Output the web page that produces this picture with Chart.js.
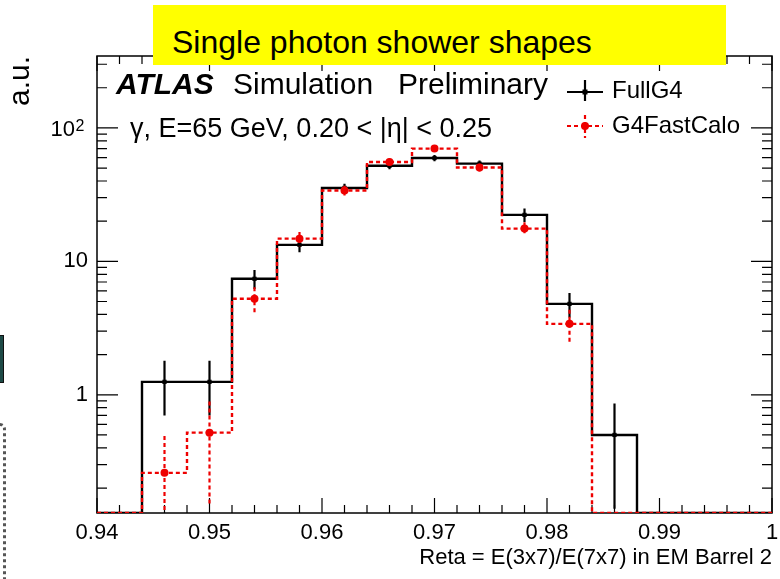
<!DOCTYPE html>
<html>
<head>
<meta charset="utf-8">
<script src="https://cdn.jsdelivr.net/npm/chart.js@4.4.1/dist/chart.umd.min.js"></script>
<style>
  html, body { margin: 0; padding: 0; background: #fff; }
  #wrap { position: relative; width: 780px; height: 579px; overflow: hidden; }
  #banner { position: absolute; left: 153px; top: 5px; width: 573px; height: 60px; background: #ffff00; }
  #banner span { position: absolute; left: 19px; top: 21px; font: 32px/32px "Liberation Sans", Arial, sans-serif; color: #000; white-space: nowrap; }
  #tealBox { position: absolute; left: -2px; top: 335px; width: 4px; height: 46px; background: #1d4a46; border: 1px solid #111; }
  #dashed { position: absolute; left: -6px; top: 423px; width: 6px; height: 170px; border: 3px dotted #555; border-radius: 6px; }
</style>
</head>
<body>
<div id="wrap">
  <canvas id="histChart" width="780" height="579"></canvas>
  <div id="tealBox"></div>
  <div id="dashed"></div>
  <div id="banner"><span>Single photon shower shapes</span></div>
</div>
<script>
// histogram: 15 bins from 0.94 to 1.0
var binLow = [0.940, 0.944, 0.948, 0.952, 0.956, 0.960, 0.964, 0.968, 0.972, 0.976, 0.980, 0.984, 0.988, 0.992, 0.996];
var binHigh = 1.0;
var fullG4 = [0, 1.25, 1.25, 7.4, 13.3, 35.5, 52, 59.5, 54, 22.3, 4.8, 0.5, 0, 0, 0];
var fullG4Err = [0, 0.55, 0.55, 1.2, 1.6, 2.6, 3.0, 3.3, 3.0, 2.6, 1.0, 0.36, 0, 0, 0];
var fastCalo = [0, 0.26, 0.52, 5.24, 14.8, 34, 55.5, 70, 50.5, 17.6, 3.4, 0, 0, 0, 0];
var fastCaloErr = [0, 0.23, 0.37, 1.15, 1.8, 2.8, 3.5, 4.0, 3.4, 2.0, 0.93, 0, 0, 0, 0];
var xTicks = [0.94, 0.95, 0.96, 0.97, 0.98, 0.99, 1.0];
var yTicks = [1, 10, 100];
var yMin = 0.13, yMax = 346;

var RED = '#ee0000';
var FONT = "'Liberation Sans', Arial, sans-serif";
Chart.defaults.font.family = FONT;
Chart.defaults.color = '#000';

// empty bins sit on the axis floor, like ROOT draws them
function stepPoints(vals) {
  var pts = vals.map(function (v, i) { return { x: binLow[i], y: v > 0 ? v : yMin }; });
  pts.push({ x: binHigh, y: pts[pts.length - 1].y });
  return pts;
}
function markerPoints(vals, errs) {
  var pts = [];
  vals.forEach(function (v, i) {
    var hi = i + 1 < binLow.length ? binLow[i + 1] : binHigh;
    if (v > 0) pts.push({ x: (binLow[i] + hi) / 2, y: v, e: errs[i] });
  });
  return pts;
}

var errorBars = {
  id: 'errorBars',
  beforeDatasetDraw: function (chart, args) {
    var ds = chart.data.datasets[args.index];
    if (!ds.errorBars) return;
    var ctx = chart.ctx, a = chart.chartArea, sx = chart.scales.x, sy = chart.scales.y;
    ctx.save();
    ctx.beginPath();
    ctx.rect(a.left, a.top, a.right - a.left, a.bottom - a.top);
    ctx.clip();
    ctx.strokeStyle = ds.backgroundColor;
    ctx.lineWidth = 2.2;
    ctx.setLineDash(ds.errDash || []);
    ctx.beginPath();
    ds.data.forEach(function (p) {
      var px = sx.getPixelForValue(p.x);
      var lo = p.y - p.e;
      var yLo = lo > 0 ? sy.getPixelForValue(lo) : a.bottom + 5;
      ctx.moveTo(px, sy.getPixelForValue(p.y + p.e));
      ctx.lineTo(px, yLo);
    });
    ctx.stroke();
    ctx.restore();
  }
};

var frameTicks = {
  id: 'frameTicks',
  beforeDatasetsDraw: function (chart) {
    var ctx = chart.ctx, a = chart.chartArea, sx = chart.scales.x, sy = chart.scales.y;
    ctx.save();
    ctx.strokeStyle = '#000';
    ctx.lineWidth = 1.5;
    ctx.strokeRect(a.left, a.top, a.right - a.left, a.bottom - a.top);
    ctx.lineWidth = 1.2;
    ctx.beginPath();
    for (var k = 0; k <= 30; k++) {
      var px = sx.getPixelForValue(0.94 + k * 0.002);
      var len = k % 5 === 0 ? 15 : 8;
      ctx.moveTo(px, a.bottom); ctx.lineTo(px, a.bottom - len);
      ctx.moveTo(px, a.top); ctx.lineTo(px, a.top + len);
    }
    [0.1, 1, 10, 100].forEach(function (d) {
      for (var m = 1; m <= 9; m++) {
        var v = d * m;
        if (v < yMin || v > yMax) continue;
        var py = sy.getPixelForValue(v);
        var len = m === 1 ? 21 : 10;
        ctx.moveTo(a.left, py); ctx.lineTo(a.left + len, py);
        ctx.moveTo(a.right, py); ctx.lineTo(a.right - len, py);
      }
    });
    ctx.stroke();

    // 10^2 label with a real superscript, placed on the y scale
    var p100 = sy.getPixelForValue(100);
    ctx.fillStyle = '#000';
    ctx.textBaseline = 'alphabetic';
    ctx.textAlign = 'right';
    ctx.font = '22px ' + FONT;
    ctx.fillText('10', 75, p100 + 8.5);
    ctx.textAlign = 'left';
    ctx.font = '16px ' + FONT;
    ctx.fillText('2', 75.5, p100 + 3.5);
    ctx.restore();
  }
};

var labels = {
  id: 'labels',
  afterDraw: function (chart) {
    var ctx = chart.ctx;
    ctx.save();
    ctx.fillStyle = '#000';
    ctx.textBaseline = 'alphabetic';
    ctx.font = 'italic bold 30px ' + FONT;
    ctx.fillText('ATLAS', 116, 94);
    ctx.font = '30px ' + FONT;
    ctx.fillText('Simulation', 233, 94);
    ctx.fillText('Preliminary', 398, 94);
    ctx.font = '27px ' + FONT;
    ctx.fillText('\u03b3, E=65 GeV, 0.20 < |\u03b7| < 0.25', 130, 137);

    // legend
    ctx.font = '24px ' + FONT;
    ctx.fillText('FullG4', 612, 98);
    ctx.fillText('G4FastCalo', 612, 133);
    ctx.lineWidth = 2.2;
    ctx.strokeStyle = '#000';
    ctx.beginPath();
    ctx.moveTo(567, 92); ctx.lineTo(603, 92);
    ctx.moveTo(585, 80); ctx.lineTo(585, 101);
    ctx.stroke();
    ctx.fillRect(582.5, 89.5, 5, 5);
    ctx.strokeStyle = RED;
    ctx.fillStyle = RED;
    ctx.setLineDash([4, 3]);
    ctx.beginPath();
    ctx.moveTo(567, 126); ctx.lineTo(603, 126);
    ctx.moveTo(585, 115); ctx.lineTo(585, 138);
    ctx.stroke();
    ctx.beginPath();
    ctx.arc(585, 126, 4, 0, Math.PI * 2);
    ctx.fill();
    ctx.restore();
  }
};

var ctx = document.getElementById('histChart').getContext('2d');
var histChart = new Chart(ctx, {
  type: 'line',
  data: {
    datasets: [
      {
        label: 'FullG4',
        data: stepPoints(fullG4),
        stepped: 'before',
        borderColor: '#000',
        borderWidth: 2.4,
        pointRadius: 0,
        fill: false,
        order: 4
      },
      {
        label: 'G4FastCalo',
        data: stepPoints(fastCalo),
        stepped: 'before',
        borderColor: RED,
        borderWidth: 2.4,
        borderDash: [4, 3],
        pointRadius: 0,
        fill: false,
        order: 3
      },
      {
        label: 'FullG4 points',
        data: markerPoints(fullG4, fullG4Err),
        showLine: false,
        pointStyle: 'rect',
        pointRadius: 3,
        backgroundColor: '#000',
        borderColor: '#000',
        borderWidth: 0,
        errorBars: true,
        order: 2
      },
      {
        label: 'G4FastCalo points',
        data: markerPoints(fastCalo, fastCaloErr),
        showLine: false,
        pointStyle: 'circle',
        pointRadius: 4,
        backgroundColor: RED,
        borderColor: RED,
        borderWidth: 0,
        errorBars: true,
        errDash: [4, 3],
        order: 1
      }
    ]
  },
  options: {
    responsive: false,
    animation: false,
    devicePixelRatio: 1,
    layout: { padding: { top: 56, right: 8, left: 0, bottom: 0 } },
    plugins: { legend: { display: false }, tooltip: { enabled: false } },
    scales: {
      x: {
        type: 'linear',
        min: 0.94,
        max: 1.0,
        grid: { display: false, drawTicks: false },
        border: { display: false },
        afterBuildTicks: function (scale) { scale.ticks = xTicks.map(function (v) { return { value: v }; }); },
        afterFit: function (scale) { scale.height = 66; scale.paddingLeft = 0; scale.paddingRight = 0; },
        ticks: {
          autoSkip: false,
          maxRotation: 0,
          padding: 7,
          font: { size: 22 },
          color: '#000',
          callback: function (v) { return String(Number(v.toFixed(2))); }
        },
        title: {
          display: true,
          text: 'Reta = E(3x7)/E(7x7) in EM Barrel 2',
          align: 'end',
          font: { size: 22 },
          color: '#000',
          padding: { top: 0, bottom: 8 }
        }
      },
      y: {
        type: 'logarithmic',
        min: yMin,
        max: yMax,
        grid: { display: false, drawTicks: false },
        border: { display: false },
        afterBuildTicks: function (scale) { scale.ticks = yTicks.map(function (v) { return { value: v }; }); },
        afterFit: function (scale) { scale.width = 97; scale.paddingTop = 0; scale.paddingBottom = 0; },
        ticks: {
          autoSkip: false,
          padding: 9,
          font: { size: 22 },
          color: '#000',
          callback: function (v) { return v === 100 ? '' : String(v); }
        },
        title: {
          display: true,
          text: 'a.u.',
          align: 'end',
          font: { size: 30 },
          color: '#000',
          padding: { top: 3, bottom: 0 }
        }
      }
    }
  },
  plugins: [frameTicks, errorBars, labels]
});
</script>
</body>
</html>
